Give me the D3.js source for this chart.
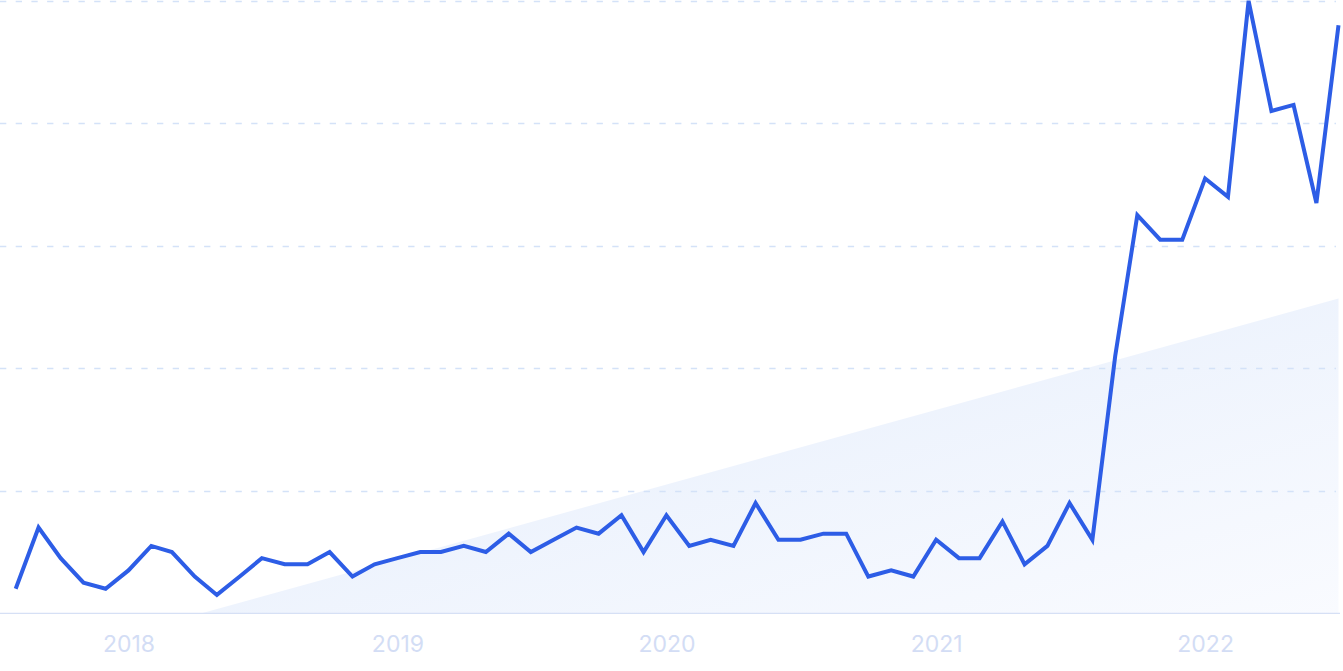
<!DOCTYPE html>
<html>
<head>
<meta charset="utf-8">
<script src="https://cdn.jsdelivr.net/npm/d3@7"></script>
<style>
  html, body { margin: 0; padding: 0; background: #ffffff; }
  svg { display: block; }
</style>
</head>
<body>
<svg id="chart" width="1343" height="671"></svg>
<script>
// ---- data (monthly, Aug 2017 .. Jul 2022) ----
const startMonth = "2017-08";
const values = [4, 14, 9, 5, 4, 7, 11, 10, 6, 3,
                6, 9, 8, 8, 10, 6, 8, 9, 10, 10,
                11, 10, 13, 10, 12, 14, 13, 16, 10, 16,
                11, 12, 11, 18, 12, 12, 13, 13, 6, 7,
                6, 12, 9, 9, 15, 8, 11, 18, 12, 42,
                65, 61, 61, 71, 68, 100, 82, 83, 67, 96];
const yTicks = [0, 20, 40, 60, 80, 100];
const yearLabels = ["2018", "2019", "2020", "2021", "2022"];
const trendEnds = [-8.4, 51.4]; // trend value at first and last month

const parse = d3.timeParse("%Y-%m");
const start = parse(startMonth);
const data = values.map((v, i) => ({ date: d3.timeMonth.offset(start, i), value: v }));

const svg = d3.select("#chart");
const W = 1343, H = 671;
const baseY = 613.3;

const x = d3.scaleTime()
  .domain([data[0].date, data[data.length - 1].date])
  .range([15.7, 1338.5]);
const y = d3.scaleLinear().domain([0, 100]).range([baseY, 0.8]);

const defs = svg.append("defs");
const grad = defs.append("linearGradient")
  .attr("id", "trendGrad")
  .attr("x1", "0").attr("y1", "0").attr("x2", "1").attr("y2", "1");
grad.append("stop").attr("offset", "0%").attr("stop-color", "#e1ebfb");
grad.append("stop").attr("offset", "100%").attr("stop-color", "#fbfcff");

defs.append("clipPath").attr("id", "plotClip")
  .append("rect").attr("x", 0).attr("y", 0).attr("width", W).attr("height", baseY);

// trend area
const trend = [
  { date: data[0].date, value: trendEnds[0] },
  { date: data[data.length - 1].date, value: trendEnds[1] }
];
svg.append("path")
  .datum(trend)
  .attr("clip-path", "url(#plotClip)")
  .attr("fill", "url(#trendGrad)")
  .attr("d", d3.area().x(d => x(d.date)).y0(y(0)).y1(d => y(d.value)));

// gridlines
svg.append("g").selectAll("line")
  .data(yTicks.filter(t => t > 0))
  .join("line")
  .attr("x1", 0).attr("x2", 1336)
  .attr("y1", d => Math.round(y(d)) + 0.5).attr("y2", d => Math.round(y(d)) + 0.5)
  .attr("stroke", "#d4e2f8")
  .attr("stroke-width", 1.3)
  .attr("stroke-dasharray", "6.3 9.4");

// baseline
svg.append("line")
  .attr("x1", 0).attr("x2", 1340)
  .attr("y1", y(0)).attr("y2", y(0))
  .attr("stroke", "#d6e0f5").attr("stroke-width", 1.3);

// x axis labels
const xAxis = d3.axisBottom(x)
  .ticks(d3.timeYear.every(1))
  .tickFormat((d, i) => yearLabels[i] !== undefined ? d3.timeFormat("%Y")(d) : "")
  .tickSize(0)
  .tickPadding(0);
const gx = svg.append("g").attr("transform", `translate(0, 651.5)`).call(xAxis);
gx.select(".domain").remove();
gx.selectAll("text")
  .attr("dy", 0)
  .attr("fill", "#d3ddf5")
  .style("font-family", "Inter, 'Noto Sans', sans-serif")
  .style("font-size", "23px");

// line
svg.append("path")
  .datum(data)
  .attr("fill", "none")
  .attr("stroke", "#2d5de6")
  .attr("stroke-width", 4)
  .attr("stroke-linejoin", "miter")
  .attr("d", d3.line().x(d => x(d.date)).y(d => y(d.value)));
</script>
</body>
</html>
